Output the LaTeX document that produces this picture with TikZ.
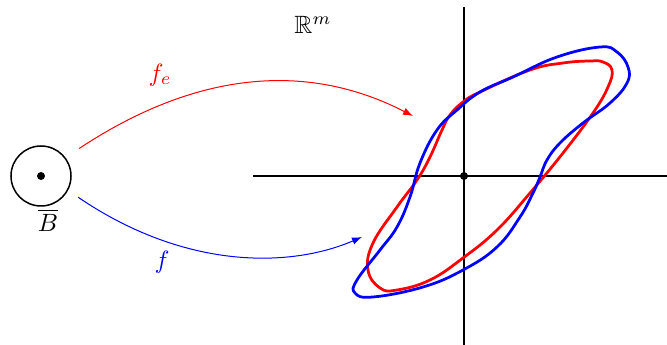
\documentclass[tikz,border=0pt]{standalone}
\usepackage{amssymb}
\usepackage{xcolor}
\definecolor{cMapE}{HTML}{FF0000}
\definecolor{cTrue}{HTML}{0000FF}
\usepackage{tikz}
\usetikzlibrary{positioning,arrows.meta,calc}
\tikzset{
  node-ball/.style={draw,circle,line width=0.6pt,minimum size=24pt,inner sep=0pt},
  node-dot/.style={fill,circle,minimum size=3.2pt,inner sep=0pt},
  node-label/.style={inner sep=1pt},
  axis/.style={line width=0.6pt},
  arrow-emb/.style={-{Latex[length=4pt,width=3pt]},line width=0.4pt,draw=cMapE},
  arrow-map/.style={-{Latex[length=4pt,width=3pt]},line width=0.4pt,draw=cTrue},
  image-emb/.style={line width=1.1pt,draw=cMapE},
  image-map/.style={line width=1.1pt,draw=cTrue},
}

\begin{document}
\begin{tikzpicture}[x=0.4pt,y=-0.4pt]
  \useasboundingbox (0,0) rectangle (667,345);
  % ball and its label
  \node[node-ball]             (ball) at (41,176) {};
  \node[node-dot]              (ctr)  at (ball.center) {};
  \node[node-label]            (bbar) at (48,220) {$\overline{B}$};
  % target space
  \coordinate (xl) at (253,176);
  \coordinate (xr) at (667,176);
  \coordinate (yt) at (464,7);
  \coordinate (yb) at (464,345);
  \draw[axis] (xl) -- (xr);
  \draw[axis] (yt) -- (yb);
  \node[node-dot]              (orig) at (464,176) {};
  \node[node-label]            (space) at (313,25) {$\mathbb{R}^m$};
  % images of the ball
  \draw[image-emb] plot[smooth cycle,tension=0.7] coordinates {
    (590,61) (563,63) (530,70) (480,92) (463,102) (450,115) (442,130)
    (430,157) (417,180) (397,207) (373,243) (368,270) (380,288) (397,290)
    (430,280) (463,258) (497,230) (530,193) (563,153) (593,113) (608,87)
    (612,70) (603,62)};
  \draw[image-map] plot[smooth cycle,tension=0.7] coordinates {
    (600,47) (617,52) (628,67) (627,83) (610,103) (583,123) (560,143)
    (547,160) (540,177) (533,193) (520,217) (497,247) (463,270) (423,287)
    (373,297) (355,293) (357,280) (380,250) (397,227) (410,197) (420,163)
    (437,130) (457,110) (480,92) (513,77) (557,57)};
  % maps
  \coordinate (fe-end) at (413,116);
  \coordinate (f-end)  at (362,237);
  \draw[arrow-emb,shorten <=6.5pt] (ball.37) .. controls (210,62) and (320,68) .. (fe-end);
  \draw[arrow-map,shorten <=4.8pt] (ball.-28) .. controls (185,270) and (290,268) .. (f-end);
  \node[node-label,text=cMapE] (fe)   at (160,75)  {$f_e$};
  \node[node-label,text=cTrue] (f)    at (162,262) {$f$};
\end{tikzpicture}
\end{document}
